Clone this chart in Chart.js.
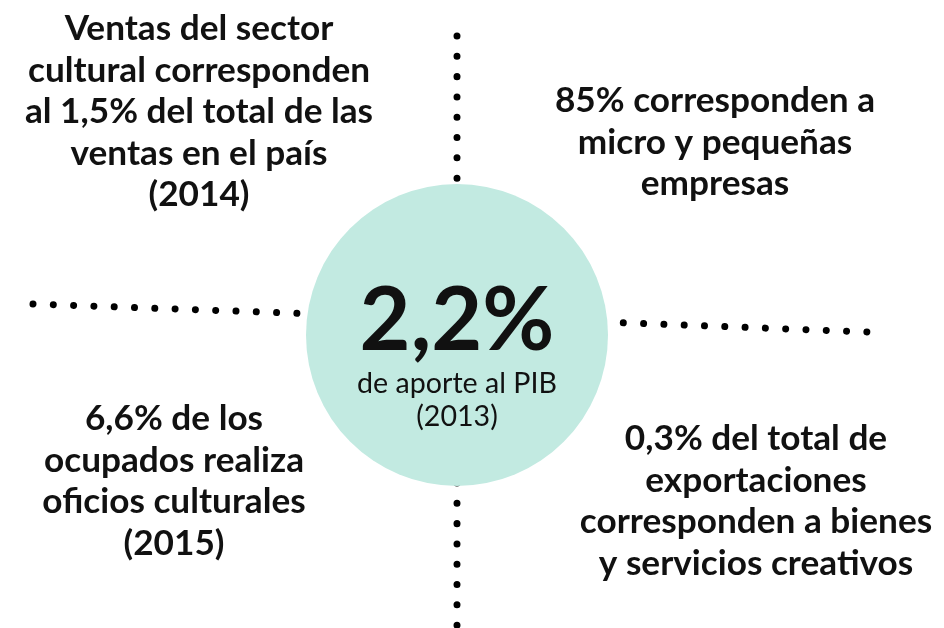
<!DOCTYPE html>
<html>
<head>
<meta charset="utf-8">
<script src="https://cdn.jsdelivr.net/npm/chart.js@4/dist/chart.umd.min.js"></script>
<style>
    html, body { margin: 0; padding: 0; background: #fff; }
    #infographic { display: block; }
</style>
</head>
<body>
<canvas id="infographic" width="944" height="628"></canvas>
<script>
// Data
var centreValue = "2,2%";
var centreCaption = ["de aporte al PIB", "(2013)"];
var statTopLeft = ["Ventas del sector", "cultural corresponden", "al 1,5% del total de las", "ventas en el país", "(2014)"];
var statTopRight = ["85% corresponden a", "micro y pequeñas", "empresas"];
var statBottomLeft = ["6,6% de los", "ocupados realiza", "oficios culturales", "(2015)"];
var statBottomRight = ["0,3% del total de", "exportaciones", "corresponden a bienes", "y servicios creativos"];

// Layout (page coordinates, the scales map 1:1 to pixels)
var W = 944, H = 628;
var hub = { x: 457, y: 335, r: 151 };
var spokes = [
    [{ x: 457, y: 36 }, { x: 457, y: 199 }],
    [{ x: 457, y: 483 }, { x: 457, y: 628 }],
    [{ x: 33, y: 304 }, { x: 318, y: 314 }],
    [{ x: 603, y: 322 }, { x: 868, y: 332 }]
];
var blocks = [
    { lines: statTopLeft, x: 199, y: 40 },
    { lines: statTopRight, x: 715, y: 112 },
    { lines: statBottomLeft, x: 174, y: 430 },
    { lines: statBottomRight, x: 756, y: 450 }
];

function init_infographic() {
    var ctx = document.getElementById("infographic").getContext("2d");

    var datasets = [{
        type: "bubble",
        data: [{ x: hub.x, y: hub.y, r: hub.r }],
        backgroundColor: "#c2eae1",
        borderWidth: 0,
        hoverRadius: 0,
        clip: false,
        order: 0
    }];
    spokes.forEach(function (s) {
        datasets.push({
            type: "line",
            data: s,
            borderColor: "#000",
            borderWidth: 7,
            borderCapStyle: "round",
            borderDash: [0.01, 20.3],
            pointRadius: 0,
            fill: false,
            clip: false,
            order: 1
        });
    });

    // Text plugin
    var textPlugin = {
        id: "statText",
        afterDatasetsDraw: function (chart) {
            var c = chart.ctx;
            var xs = chart.scales.x, ys = chart.scales.y;
            c.save();
            c.fillStyle = "#111";
            c.textAlign = "center";
            c.textBaseline = "alphabetic";

            c.font = "bold 35.2px Lato";
            blocks.forEach(function (b) {
                b.lines.forEach(function (line, i) {
                    c.fillText(line, xs.getPixelForValue(b.x), ys.getPixelForValue(b.y + i * 41.5));
                });
            });

            c.font = "bold 88px Lato";
            c.fillText(centreValue, xs.getPixelForValue(hub.x), ys.getPixelForValue(350));
            c.font = "28.6px Lato";
            centreCaption.forEach(function (line, i) {
                c.fillText(line, xs.getPixelForValue(hub.x), ys.getPixelForValue(393 + i * 33));
            });
            c.restore();
        }
    };

    new Chart(ctx, {
        type: "scatter",
        data: { datasets: datasets },
        options: {
            responsive: false,
            animation: false,
            events: [],
            layout: { padding: 0, autoPadding: false },
            scales: {
                x: { type: "linear", min: 0, max: W, display: false },
                y: { type: "linear", min: 0, max: H, reverse: true, display: false }
            },
            plugins: {
                legend: { display: false },
                tooltip: { enabled: false }
            }
        },
        plugins: [textPlugin]
    });
}

init_infographic();
</script>
</body>
</html>
